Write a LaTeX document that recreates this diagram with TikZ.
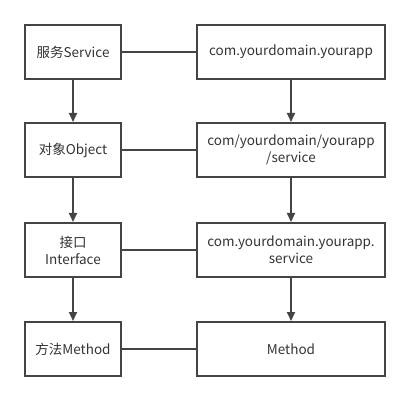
\documentclass[tikz,border=0pt]{standalone}
\usepackage{fontspec}
\setmainfont{Noto Sans CJK SC}
\usepackage{tikz}
\usetikzlibrary{arrows.meta,positioning}

\definecolor{linegray}{HTML}{444444}
\definecolor{textgray}{HTML}{333333}

\begin{document}
\begin{tikzpicture}[x=1pt,y=-1pt,
    box/.style={draw=linegray, line width=2pt, minimum height=54pt, align=center,
        text=textgray, font=\fontsize{13.5}{17}\selectfont, inner sep=2pt},
    leftbox/.style={box, minimum width=96pt},
    rightbox/.style={box, minimum width=188pt},
    link/.style={draw=linegray, line width=2pt},
    flow/.style={link, -{Triangle[length=9pt,width=8pt]}}]
    \useasboundingbox (0,0) rectangle (410,401);

    % Left column
    \node[leftbox] (svc) at (73, 52) {服务Service};
    \node[leftbox] (obj) at (73, 150) {对象Object};
    \node[leftbox] (itf) at (73, 250) {接口\\Interface};
    \node[leftbox] (mtd) at (73, 349) {方法Method};

    % Right column
    \node[rightbox] (pkg) at (291, 52) {com.yourdomain.yourapp};
    \node[rightbox] (dir) at (291, 150) {com/yourdomain/yourapp\\/service};
    \node[rightbox] (sub) at (291, 250) {com.yourdomain.yourapp.\\service};
    \node[rightbox] (rmt) at (291, 349) {Method};

    % Arrows down
    \draw[flow] (svc) -- (obj);
    \draw[flow] (obj) -- (itf);
    \draw[flow] (itf) -- (mtd);
    \draw[flow] (pkg) -- (dir);
    \draw[flow] (dir) -- (sub);
    \draw[flow] (sub) -- (rmt);

    % Links across
    \draw[link] (svc) -- (pkg);
    \draw[link] (obj) -- (dir);
    \draw[link] (itf) -- (sub);
    \draw[link] (mtd) -- (rmt);
\end{tikzpicture}
\end{document}
